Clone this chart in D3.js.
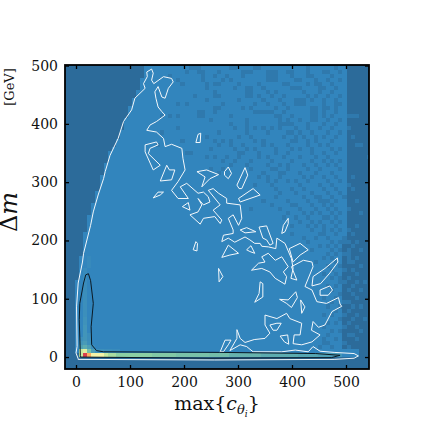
<!DOCTYPE html>
<html>
<head>
<meta charset="utf-8">
<script src="https://cdn.jsdelivr.net/npm/d3@7"></script>
<style>
html, body { margin: 0; padding: 0; background: #fff; }
text { font-family: "DejaVu Serif", serif; fill: #111; }
</style>
</head>
<body>
<div id="chart"></div>
<script>
const xTicks = [0, 100, 200, 300, 400, 500];
const yTicks = [0, 100, 200, 300, 400, 500];

// histogram bins (row 0 is the top one)
const xBinStart = -24;
const xBinSize = 7.5;
const yBinSize = 6.94;
const rowStart = [20,20,20,19,19,19,18,18,17,17,16,16,16,15,15,15,14,14,13,13,12,11,11,11,10,10,10,9,9,9,9,8,8,8,7,7,7,6,6,6,6,5,5,5,5,5,5,4,4,4,4,4,4,3,3,3,3,3,3,3,3,3,3,3,3,3,3,3,3,3,3,4];
const rowEnd = [69,69,69,69,69,69,69,69,69,69,69,69,69,69,69,69,69,69,69,69,69,69,69,69,69,69,69,69,69,69,69,69,69,69,69,69,69,69,69,69,69,69,69,68,68,68,68,68,68,68,68,68,68,68,68,68,68,68,68,68,68,68,68,68,68,68,68,68,68,68,72,72];
// cells with fewer counts, by row
const sparseCols = [
  [31,32,33,41,42,47,48,60,67],
  [30,33,34,38,44,45,46,50,51,52,55,56,60,64,65,68],
  [26,34,37,40,44,50,51,52,56,60,61,66],
  [28,34,39,41,50,51,52,57,58,62,65,68],
  [29,35,37,38,43,48,54,55,60,62,63,66],
  [35,42,45,46,49,56,57,58,63,64,67],
  [37,45,46,50,52,59,63,66],
  [32,37,38,45,46,48,51,54,60,62,65,68],
  [35,43,49,53,57,58,59,61,64,67],
  [28,30,39,47,50,54,57,58,59,64,67,68],
  [37,38,44,46,52,55,61,62,64,65,67],
  [33,34,37,47,48,49,50,51,54,61,62,64,67],
  [24,26,28,33,34,41,52,53,56,61,62,64,66,70,71,72],
  [36,45,53,55,58,61,62,65,68],
  [41,45,53,54,55,56,60,64,67],
  [28,42,45,47,49,51,53,57,60,63,66,70],
  [24,38,45,50,55,56,58,61,65,68],
  [35,43,46,54,57,59,62,64,67,71],
  [29,37,39,41,47,49,56,57,60,62,66],
  [23,38,41,44,49,51,55,60,63,65,72,73],
  [36,42,45,47,52,56,58,61,66,68],
  [30,31,43,44,48,52,55,61,64,67],
  [35,37,40,43,48,50,54,58,62,65,75],
  [39,42,46,51,56,61,64,66,68],
  [41,45,50,53,55,59,62,65,67],
  [36,39,46,51,52,55,60,63,68],
  [38,49,53,54,58,62,66],
  [48,50,53,59,61,64,67,71],
  [50,52,55,57,60,65,68],
  [47,51,58,63,66,70],
  [52,56,59,64,67,71],
  [53,57,61,65,68],
  [52,59,62,63,66,69],
  [49,55,60,63,64,65,67,72],
  [51,56,57,61,64,66],
  [46,53,58,62,65,67,70],
  [55,59,61,63,66,68,73],
  [54,57,60,64,65,67],
  [58,61,63,66,68],
  [56,60,62,64,67,72],
  [61,64,66,68,70],
  [56,63,64,67,71],
  [59,62,65,69],
  [60,66,68,69,70,72],
  [63,65,67,71],
  [61,66,68,70,73],
  [65,67,69,70],
  [64,66,70,72],
  [62,67,70,71],
  [65,68,73],
  [66,69,71],
  [64,67,72],
  [66,68,70],
  [68,69,72,74],
  [65,67,71],
  [66,70,73],
  [68,71],
  [64,67,72],
  [66,69,70],
  [65,68,71,73],
  [67,70],
  [64,66,69,72],
  [68,71,74],
  [65,67,70],
  [64,69,72],
  [66,68,73],
  [65,70,71],
  [64,67,72],
  [64,65,69],
  [63,66,70],
  [],
  []
];
// the dense cells along the corner, [row, col, level]
const hotCells = [
  [71,4,6],[71,5,9],[71,6,8],[71,7,7],[71,8,7],[71,9,7],[71,10,6],[71,11,5.5],[71,12,5.5],[71,13,5],[71,14,5],[71,15,5],[71,16,5],[71,17,5],[71,18,5],[71,19,5],[71,20,5],[71,21,5],
  [71,22,4.8],[71,23,4.8],[71,24,4.8],[71,25,4.8],[71,26,4.8],[71,27,4.8],[71,28,4.6],[71,29,4.6],[71,30,4.6],[71,31,4.6],[71,32,4.6],[71,33,4.6],[71,34,4.6],[71,35,4.6],[71,36,4.5],[71,37,4.5],[71,38,4.5],[71,39,4.5],[71,40,4.5],
  [71,41,4.2],[71,42,4.2],[71,43,4.2],[71,44,4.2],[71,45,4.2],[71,46,4.2],[71,47,4.2],[71,48,4.2],[71,49,4],[71,50,4],[71,51,4],[71,52,4],[71,53,4],[71,54,4],[71,55,4],[71,56,4],[71,57,4],[71,58,3.8],[71,59,3.8],[71,60,3.8],[71,61,3.8],[71,62,3.8],[71,63,3.6],[71,64,3.6],[71,65,3.6],[71,66,3.4],[71,67,3.4],[71,68,3.2],
  [70,4,6],[70,5,6.5],[70,6,4.5],[70,7,3.5],[70,8,3],[70,9,3],[70,10,2.8],[70,11,2.8],[70,12,2.6],[70,13,2.6],
  [69,4,3.6],[69,5,4],[69,6,3.5],[69,7,2.8],[68,4,3.2],[68,5,3.4],[68,6,3],
  [67,4,3],[67,5,3.2],[67,6,2.8],[66,5,3.2],[66,6,2.8],[65,5,3.2],[64,5,3.2],[63,5,3.1],[62,5,3.1],[61,5,3],[60,5,3],[59,5,3],[58,5,3],[57,5,2.9],[56,5,2.9],[55,5,2.8],[54,5,2.8],[53,5,2.7],[52,5,2.7],[51,5,2.6],[50,5,2.6],[49,6,2.5],[48,6,2.5],[47,6,2.4]
];
const levelValues = [0, 1, 2, 3, 4, 5, 6, 7, 8, 9];
const levelColors = ["#2c6b9a", "#2f79ad", "#3285bd", "#3c8fbb", "#5cacb0", "#8ccfa4", "#c8e99e", "#f5f3a8", "#fdae61", "#d8404e"];

// 1 sigma style contours, [x, y]
const outerContour = [[4,-3],[0,7],[2,18],[1,86],[4,127],[12,163],[14,178],[27,226],[32,249],[41,278],[51,306],[54,318],[63,346],[78,375],[88,404],[103,424],[109,444],[128,461],[125,469],[132,481],[131,489],[140,494],[143,487],[140,475],[144,469],[162,481],[177,478],[180,472],[171,461],[165,444],[159,446],[152,464],[146,455],[148,444],[152,429],[159,421],[165,415],[149,404],[137,398],[131,389],[149,386],[162,375],[165,361],[177,365],[196,358],[198,341],[202,321],[189,301],[177,286],[189,272],[208,272],[193,292],[205,298],[226,281],[236,283],[245,275],[248,266],[236,261],[226,272],[233,261],[226,249],[211,244],[230,228],[236,238],[257,241],[267,229],[270,235],[254,252],[267,261],[245,286],[254,289],[264,281],[279,272],[279,264],[304,261],[307,238],[301,226],[291,244],[282,238],[291,218],[291,212],[273,209],[270,198],[282,204],[294,197],[313,206],[322,201],[331,195],[341,195],[344,190],[356,189],[370,186],[372,204],[387,195],[399,169],[402,152],[398,135],[409,132],[399,155],[421,166],[437,163],[439,155],[424,121],[437,115],[446,95],[464,92],[486,102],[489,91],[492,87],[474,78],[461,55],[449,51],[439,61],[436,46],[452,38],[437,26],[418,21],[402,23],[404,38],[415,38],[418,58],[396,66],[390,75],[372,66],[350,72],[350,55],[359,41],[350,32],[330,30],[313,25],[304,32],[298,47],[298,32],[285,11],[304,21],[316,18],[328,9],[381,9],[406,12],[430,9],[439,18],[452,10],[478,8],[515,6],[523,2],[515,-2],[478,-4],[257,-5],[4,-4]];
const islandContours = [
  [[339,223],[353,225],[365,195],[359,192],[353,201],[346,204]],
  [[359,55],[372,58],[380,58],[372,46],[365,46]],
  [[378,36],[392,38],[394,22],[386,26]],
  [[341,129],[346,126],[346,103],[331,94],[339,109]],
  [[377,99],[393,98],[407,112],[410,102],[399,85],[390,92]],
  [[416,98],[424,86],[418,75]],
  [[452,115],[470,122],[475,115],[467,106],[452,106]],
  [[437,122],[439,138],[461,152],[484,170],[485,163],[470,144],[453,126]],
  [[395,186],[415,195],[430,184],[415,175],[402,163]],
  [[381,212],[384,226],[393,238],[393,229],[387,215]],
  [[275,318],[282,326],[288,315],[282,306],[275,312]],
  [[298,295],[313,325],[318,312],[307,289],[302,289]],
  [[301,272],[328,289],[341,278],[313,269],[304,266]],
  [[224,318],[242,321],[264,313],[248,306],[233,292],[239,309]],
  [[128,364],[149,369],[152,364],[137,358],[134,349],[156,329],[143,321],[128,352]],
  [[156,302],[168,329],[173,321],[183,321],[177,304]],
  [[143,273],[152,283],[162,283],[156,278]],
  [[222,368],[226,382],[231,384],[230,368]],
  [[197,258],[208,265],[211,252]],
  [[217,184],[222,198],[225,195],[224,182]],
  [[270,171],[282,192],[301,178],[285,175]],
  [[316,184],[324,191],[331,178],[322,181]],
  [[264,152],[272,138],[265,129]],
  [[304,218],[316,222],[333,215],[313,213]],
  [[325,149],[344,152],[359,146],[369,135],[387,125],[390,138],[384,146],[393,155],[381,172],[369,166],[356,178],[344,172],[350,163],[338,161]],
  [[267,9],[276,29],[287,29],[282,21],[273,9]]
];
const innerContour = [[8,3],[6,64],[7,92],[14,127],[18,141],[23,143],[27,131],[32,92],[28,52],[29,21],[38,11],[51,9],[266,8],[444,6],[489,3],[473,-1],[250,-2],[8,0]];

const width = 434, height = 434;
const svg = d3.select("#chart").append("svg")
    .attr("width", width)
    .attr("height", height)
    .style("display", "block");

const x = d3.scaleLinear().domain([-20.4, 542.6]).range([65, 369]);
const y = d3.scaleLinear().domain([-20.5, 501]).range([369, 65]);
const colorScale = d3.scaleLinear().domain(levelValues).range(levelColors);

svg.append("clipPath").attr("id", "plot-clip")
    .append("rect")
    .attr("x", 65).attr("y", 65).attr("width", 304).attr("height", 304);

const plot = svg.append("g").attr("clip-path", "url(#plot-clip)");

plot.append("rect")
    .attr("x", 65).attr("y", 65).attr("width", 304).attr("height", 304)
    .attr("fill", colorScale(0));

// flatten the rows into cells
var cells = [];
rowStart.forEach((s, row) => {
    for (let col = s; col <= rowEnd[row]; col++) {
        cells.push({ row: row, col: col, level: 2 });
    }
    sparseCols[row].forEach(col => cells.push({ row: row, col: col, level: 1 }));
});
hotCells.forEach(d => cells.push({ row: d[0], col: d[1], level: d[2] }));

const rowCount = rowStart.length;
plot.selectAll(".cell")
    .data(cells)
    .enter().append("rect")
    .attr("class", "cell")
    .attr("x", d => x(xBinStart + d.col * xBinSize))
    .attr("y", d => y((rowCount - d.row) * yBinSize))
    .attr("width", x(xBinSize) - x(0))
    .attr("height", y(0) - y(yBinSize))
    .attr("fill", d => colorScale(d.level))
    .attr("shape-rendering", "crispEdges");

const contourLine = d3.line().x(d => x(d[0])).y(d => y(d[1])).curve(d3.curveLinearClosed);

plot.selectAll(".white-contour")
    .data([outerContour].concat(islandContours))
    .enter().append("path")
    .attr("class", "white-contour")
    .attr("d", contourLine)
    .attr("fill", "none")
    .attr("stroke", "#f4f8fb")
    .attr("stroke-width", 1)
    .attr("stroke-linejoin", "round");

plot.append("path")
    .attr("d", contourLine(innerContour))
    .attr("fill", "none")
    .attr("stroke", "#0b1a24")
    .attr("stroke-width", 1)
    .attr("stroke-linejoin", "round");

// ticks point inward on all four sides
const tickSize = 4;
function styleAxis(g) {
    g.select(".domain").remove();
    g.selectAll("line").attr("stroke", "#000").attr("stroke-width", 1.3);
    g.selectAll("text").style("font-size", "14px").attr("fill", "#111");
}
svg.append("g").attr("transform", "translate(0,369)")
    .call(d3.axisBottom(x).tickValues(xTicks).tickSizeInner(-tickSize).tickPadding(8))
    .call(styleAxis);
svg.append("g").attr("transform", "translate(0,65)")
    .call(d3.axisTop(x).tickValues(xTicks).tickSizeInner(-tickSize).tickFormat(""))
    .call(styleAxis);
svg.append("g").attr("transform", "translate(65,0)")
    .call(d3.axisLeft(y).tickValues(yTicks).tickSizeInner(-tickSize).tickPadding(7))
    .call(styleAxis);
svg.append("g").attr("transform", "translate(369,0)")
    .call(d3.axisRight(y).tickValues(yTicks).tickSizeInner(-tickSize).tickFormat(""))
    .call(styleAxis);

svg.append("rect")
    .attr("x", 65).attr("y", 65).attr("width", 304).attr("height", 304)
    .attr("fill", "none")
    .attr("stroke", "#000")
    .attr("stroke-width", 1.8);

// axis labels
const xLabel = svg.append("text")
    .attr("x", 217).attr("y", 410)
    .attr("text-anchor", "middle")
    .style("font-size", "19px");
xLabel.append("tspan").text("max{");
xLabel.append("tspan").style("font-style", "italic").text("c");
xLabel.append("tspan").style("font-style", "italic").style("font-size", "13px").attr("dy", 4).text("θ");
xLabel.append("tspan").style("font-style", "italic").style("font-size", "9px").attr("dy", 3).text("i");
xLabel.append("tspan").attr("dy", -7).text("}");

const dmLabel = svg.append("text")
    .attr("transform", "translate(17,212) rotate(-90)")
    .attr("text-anchor", "middle")
    .style("font-size", "24px");
dmLabel.append("tspan").text("Δ");
dmLabel.append("tspan").style("font-style", "italic").text("m");

svg.append("text")
    .attr("transform", "translate(14,87) rotate(-90)")
    .attr("text-anchor", "middle")
    .style("font-size", "13px")
    .text("[GeV]");
</script>
</body>
</html>
